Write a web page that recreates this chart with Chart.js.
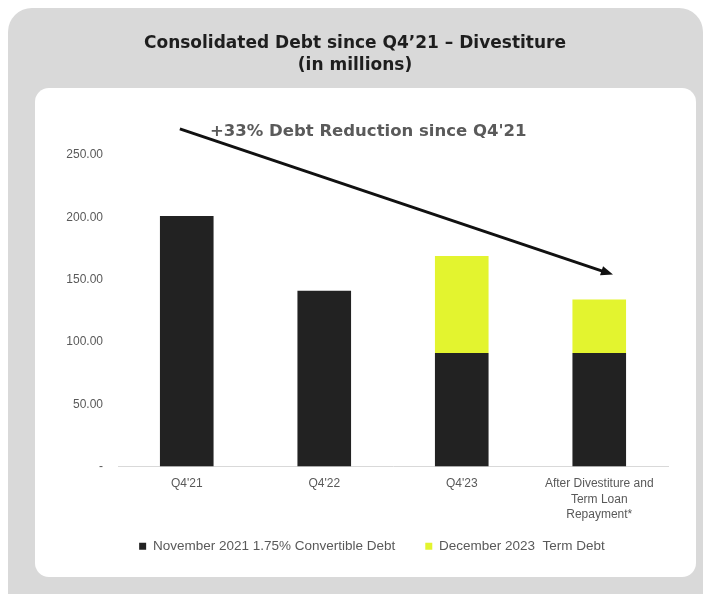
<!DOCTYPE html>
<html>
<head>
<meta charset="utf-8">
<script src="https://cdn.jsdelivr.net/npm/chart.js@4.4.1/dist/chart.umd.min.js"></script>
<style>
  html, body { margin: 0; padding: 0; background: #ffffff; }
  #wrap { width: 711px; height: 594px; }
</style>
</head>
<body>
<div id="wrap"><canvas id="c" width="711" height="594"></canvas></div>
<script>
// ---- data ----
const categories = ["Q4'21", "Q4'22", "Q4'23", ["After Divestiture and", "Term Loan", "Repayment*"]];
const convertibleDebt = [201, 141, 91, 91];
const termDebt = [0, 0, 78, 43];
const seriesNames = ["November 2021 1.75% Convertible Debt", "December 2023  Term Debt"];
const yTicks = [0, 50, 100, 150, 200, 250];
const titleLines = ["Consolidated Debt since Q4’21 – Divestiture", "(in millions)"];
const annotationText = "+33% Debt Reduction since Q4'21";
// annotation arrow anchored in data space: [category index, value]
const arrowStart = [-0.05, 271];
const arrowEnd = [3.1, 154];
const annotationAnchor = [1.32, 269];

const decor = {
  id: 'decor',
  afterLayout(chart) {
    // move legend up / right to sit where the reference has it
    const lg = chart.legend;
    if (lg) {
      lg.top -= 19; lg.bottom -= 19;
      lg.left += 13; lg.right += 13;
    }
  },
  beforeDraw(chart) {
    const ctx = chart.ctx;
    ctx.save();
    ctx.fillStyle = '#ffffff';
    ctx.fillRect(0, 0, chart.width, chart.height);
    ctx.fillStyle = '#d9d9d9';
    ctx.beginPath();
    ctx.roundRect(8, 8, 695, 610, 24);
    ctx.fill();
    ctx.fillStyle = '#ffffff';
    ctx.beginPath();
    ctx.roundRect(35, 88, 661, 489, 14);
    ctx.fill();
    ctx.fillStyle = '#1e1e1e';
    ctx.font = 'bold 17px "DejaVu Sans", sans-serif';
    ctx.textAlign = 'center';
    ctx.textBaseline = 'middle';
    ctx.fillText(titleLines[0], 355, 44);
    ctx.fillText(titleLines[1], 355, 66);
    ctx.restore();
  },
  afterDraw(chart) {
    const ctx = chart.ctx;
    const xs = chart.scales.x, ys = chart.scales.y;
    const catPx = (i) => {
      const a = xs.getPixelForValue(0), b = xs.getPixelForValue(1);
      return a + (b - a) * i;
    };
    const x1 = catPx(arrowStart[0]), y1 = ys.getPixelForValue(arrowStart[1]);
    const x2 = catPx(arrowEnd[0]), y2 = ys.getPixelForValue(arrowEnd[1]);
    ctx.save();
    ctx.strokeStyle = '#111111';
    ctx.fillStyle = '#111111';
    ctx.lineWidth = 3;
    const ang = Math.atan2(y2 - y1, x2 - x1);
    const head = 13;
    ctx.beginPath();
    ctx.moveTo(x1, y1);
    ctx.lineTo(x2 - head * 0.8 * Math.cos(ang), y2 - head * 0.8 * Math.sin(ang));
    ctx.stroke();
    ctx.beginPath();
    ctx.moveTo(x2, y2);
    ctx.lineTo(x2 - head * Math.cos(ang - 0.38), y2 - head * Math.sin(ang - 0.38));
    ctx.lineTo(x2 - head * Math.cos(ang + 0.38), y2 - head * Math.sin(ang + 0.38));
    ctx.closePath();
    ctx.fill();
    ctx.fillStyle = '#5a5a5a';
    ctx.font = 'bold 16.5px "DejaVu Sans", sans-serif';
    ctx.textAlign = 'center';
    ctx.textBaseline = 'middle';
    ctx.fillText(annotationText, catPx(annotationAnchor[0]), ys.getPixelForValue(annotationAnchor[1]));
    ctx.restore();
  }
};

new Chart(document.getElementById('c'), {
  type: 'bar',
  data: {
    labels: categories,
    datasets: [
      { label: seriesNames[0], data: convertibleDebt, backgroundColor: '#222222' },
      { label: seriesNames[1], data: termDebt, backgroundColor: '#e3f42f' }
    ]
  },
  options: {
    responsive: false,
    animation: false,
    devicePixelRatio: 1,
    layout: { padding: { left: 50, right: 43, top: 155, bottom: 12 } },
    scales: {
      x: {
        stacked: true,
        grid: { display: false, drawTicks: false },
        border: { display: true, color: '#d9d9d9', width: 1 },
        ticks: { color: '#595959', font: { family: '"Liberation Sans", Arial', size: 12, lineHeight: 1.32 }, padding: 9, maxRotation: 0 },
        afterFit(s) { s.height = 62; }
      },
      y: {
        stacked: true,
        min: 0, max: 250,
        afterBuildTicks(s) { s.ticks = yTicks.map(v => ({ value: v })); },
        grid: { display: false, drawTicks: false },
        border: { display: false },
        ticks: {
          color: '#595959', font: { family: '"Liberation Sans", Arial', size: 12 }, padding: 15,
          callback: (v) => v === 0 ? '-' : Number(v).toFixed(2)
        },
        afterFit(s) { s.width = 68; }
      }
    },
    datasets: { bar: { barPercentage: 0.39, categoryPercentage: 1.0 } },
    plugins: {
      legend: {
        position: 'bottom',
        labels: {
          boxWidth: 7, boxHeight: 7, padding: 30,
          color: '#595959', font: { family: '"Liberation Sans", Arial', size: 13.5 }
        }
      },
      title: { display: false },
      tooltip: { enabled: false }
    }
  },
  plugins: [decor]
});
</script>
</body>
</html>
